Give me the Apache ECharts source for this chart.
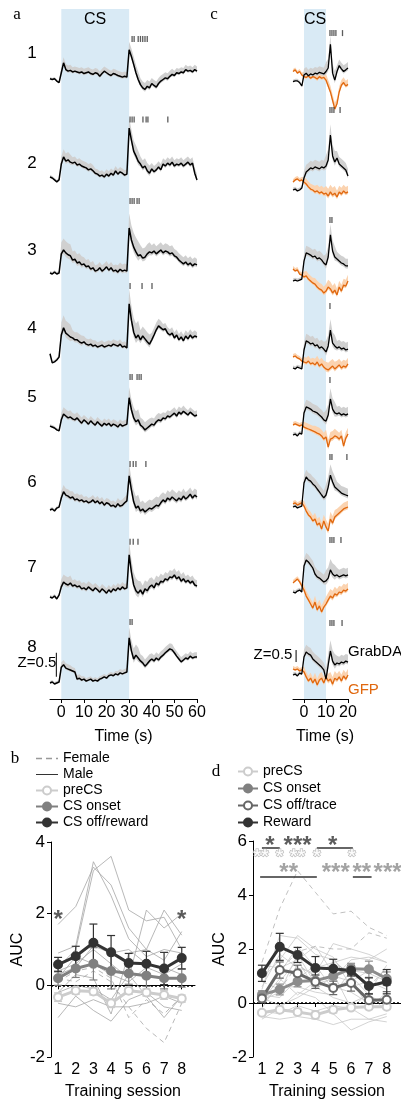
<!DOCTYPE html>
<html>
<head>
<meta charset="utf-8">
<script src="https://cdn.jsdelivr.net/npm/echarts@6/dist/echarts.min.js"></script>
<style>
  html, body { margin: 0; padding: 0; background: #fff; }
  #chart { width: 401px; height: 1101px; }
</style>
</head>
<body>
<div id="chart"></div>
<script>
const FONT = "'Liberation Sans Narrow', 'Liberation Sans', Arial, sans-serif";
const SERIF = "'Liberation Serif', 'DejaVu Serif', serif";

// ---------- panel a: GrabDA, 8 sessions, time -5..60 s (z-score) ----------
const timeA = [-5,-4,-3,-2,-1,0,1,2,3,4,5,6,7,8,9,10,11,12,13,14,15,16,17,18,19,20,21,22,23,24,25,26,27,28,29,
  30,31,32,33,34,35,36,37,38,39,40,41,42,43,44,45,46,47,48,49,50,51,52,53,54,55,56,57,58,59,60];
const aTrace1 = [0.02,0,0.02,-0.04,-0.08,
  0.17,0.42,0.25,0.21,0.23,0.19,0.21,0.19,0.17,0.19, 0.15,0.17,0.19,0.15,0.13,0.17,0.15,0.08,0.15,0.21,
  0.17,0.13,0.1,0.15,0.13,0.1,0.08,0.06,0.08,0.06, 0.75,0.58,0.38,0.17,0,-0.13,-0.21,-0.25,-0.17,-0.21,
  -0.1,-0.15,-0.19,-0.1,-0.04,0,0.04,0.02,0.08,0.13, 0.1,0.17,0.15,0.19,0.17,0.25,0.21,0.23,0.19,0.25, 0.21];
const aTrace2 = [0.02,0,-0.04,-0.08,-0.04,
  0.29,0.44,0.35,0.38,0.33,0.31,0.33,0.27,0.29,0.25, 0.23,0.21,0.17,0.19,0.15,0.1,0.08,0.04,0.06,0.02,
  0.08,0.04,0.1,0.06,0.15,0.08,0.13,0.1,0.06,0.08, 1.04,0.79,0.56,0.46,0.35,0.29,0.21,0.25,0.15,0.1,
  0.19,0.13,0.17,0.23,0.17,0.29,0.25,0.31,0.27,0.33, 0.25,0.29,0.27,0.31,0.25,0.29,0.33,0.27,0.31,0.1, -0.04];
const aTrace3 = [0.02,0,0.04,0,0.02,
  0.42,0.5,0.44,0.4,0.38,0.29,0.31,0.23,0.25,0.19, 0.21,0.15,0.17,0.1,0.13,0.06,0.08,0.13,0.06,0.1,
  0.15,0.08,0.13,0.06,0.08,0.04,0.1,0.06,0.08,0.06, 0.96,0.71,0.56,0.46,0.38,0.4,0.33,0.35,0.42,0.46,
  0.44,0.48,0.42,0.46,0.5,0.44,0.48,0.46,0.42,0.44, 0.38,0.35,0.29,0.25,0.21,0.25,0.19,0.23,0.17,0.21, 0.19];
const aTrace4 = [0.13,-0.06,-0.04,0,0.06,
  0.52,0.67,0.56,0.52,0.48,0.46,0.42,0.42,0.38,0.35, 0.38,0.33,0.31,0.33,0.29,0.31,0.27,0.29,0.31,0.27,
  0.29,0.31,0.29,0.33,0.31,0.29,0.33,0.27,0.29,0.25, 1.17,0.83,0.58,0.46,0.52,0.42,0.5,0.44,0.38,0.33,
  0.42,0.52,0.63,0.71,0.67,0.63,0.65,0.56,0.52,0.56, 0.46,0.52,0.42,0.48,0.4,0.5,0.44,0.52,0.46,0.5, 0.48];
const aTrace5 = [0.04,0.02,0,-0.04,-0.06,
  0.17,0.29,0.25,0.21,0.23,0.19,0.17,0.21,0.15,0.1, 0.17,0.13,0.08,0.15,0.1,0.06,0.13,0.08,0.04,0.1,
  0.06,0.1,0.04,0.08,0.06,0.02,0.08,0.04,0.06,0.08, 0.63,0.38,0.21,0.13,0.17,0.06,0.02,-0.04,0,0.04,
  0.08,0.06,0.13,0.17,0.15,0.21,0.19,0.25,0.23,0.27, 0.31,0.25,0.33,0.29,0.35,0.31,0.27,0.33,0.29,0.25, 0.27];
const aTrace6 = [0,0.02,-0.02,0.04,0.06,
  0.25,0.38,0.31,0.29,0.25,0.27,0.21,0.23,0.19,0.21, 0.17,0.19,0.15,0.17,0.21,0.15,0.19,0.13,0.17,0.1,
  0.15,0.13,0.08,0.1,0.06,0.13,0.08,0.1,0.15,0.19, 0.71,0.42,0.17,0.04,0.08,-0.02,0.02,-0.04,0,0.04,
  0.02,0.06,0.1,0.08,0.15,0.21,0.17,0.25,0.21,0.27, 0.23,0.19,0.25,0.21,0.29,0.23,0.27,0.33,0.25,0.31, 0.27];
const aTrace7 = [0,-0.02,0.02,-0.04,0.04,
  0.21,0.31,0.27,0.25,0.29,0.23,0.25,0.21,0.23,0.17, 0.19,0.15,0.21,0.17,0.13,0.19,0.15,0.1,0.17,0.13,
  0.08,0.15,0.1,0.17,0.13,0.19,0.15,0.21,0.17,0.19, 0.88,0.52,0.25,0.13,0.08,0.15,0.06,0.17,0.13,0.21,
  0.25,0.19,0.29,0.25,0.33,0.31,0.38,0.35,0.42,0.4, 0.46,0.38,0.42,0.33,0.38,0.31,0.35,0.29,0.33,0.25, 0.23];
const aTrace8 = [0,0.02,-0.02,0,0.02,
  0.33,0.38,0.31,0.29,0.27,0.25,0.23,0.08,0.1,0.06, 0.08,0.04,0.06,0.08,0.04,0.06,0.04,0.08,0.1,0.13,
  0.1,0.15,0.17,0.15,0.19,0.17,0.21,0.19,0.21,0.23, 0.94,0.67,0.5,0.58,0.52,0.46,0.42,0.35,0.4,0.46,
  0.5,0.46,0.52,0.48,0.54,0.58,0.63,0.67,0.71,0.69, 0.63,0.56,0.5,0.44,0.48,0.52,0.5,0.56,0.52,0.54, 0.54];
// SEM per 5 s bin, starting at -5 s
const aSem1 = [0.04,0.14,0.12,0.12,0.12,0.12,0.12,0.2,0.16,0.14,0.14,0.12,0.12,0.12];
const aSem2 = [0.04,0.16,0.12,0.12,0.1,0.1,0.1,0.22,0.16,0.12,0.12,0.12,0.12,0.12];
const aSem3 = [0.04,0.24,0.18,0.14,0.12,0.12,0.14,0.3,0.2,0.16,0.16,0.14,0.14,0.12];
const aSem4 = [0.04,0.26,0.16,0.12,0.1,0.1,0.1,0.3,0.2,0.15,0.12,0.12,0.12,0.1];
const aSem5 = [0.04,0.14,0.12,0.1,0.1,0.1,0.1,0.22,0.16,0.14,0.12,0.12,0.1,0.1];
const aSem6 = [0.04,0.14,0.12,0.1,0.1,0.1,0.12,0.24,0.18,0.18,0.16,0.16,0.14,0.14];
const aSem7 = [0.04,0.16,0.12,0.12,0.1,0.1,0.1,0.26,0.18,0.16,0.14,0.14,0.12,0.12];
const aSem8 = [0.04,0.1,0.08,0.06,0.06,0.06,0.08,0.22,0.14,0.12,0.12,0.1,0.1,0.1];
// lick times (s)
const aLicks1 = [31.3,32.2,34,35,36,37,38];
const aLicks2 = [30.4,31.3,32.2,36.1,37.5,38.3,47.1];
const aLicks3 = [30.4,31.3,32.2,33.5,34.4];
const aLicks4 = [30.4,35.7,40.1];
const aLicks5 = [30.4,31.3,33.5,34.4,35.3];
const aLicks6 = [30.4,31.8,33.0,37.4];
const aLicks7 = [30.4,31.8,33.9];
const aLicks8 = [30.4,31.3];

// ---------- panel c: GrabDA vs GFP, time -5..20 s ----------
const timeC = [-5,-4,-3,-2,-1,0,1,2,3,4,5,6,7,8,9,10,11,12,13,14,15,16,17,18,19,20];
const cDA1 = [0,0.04,0.04,-0.04,-0.21, 0.33,0.42,0.29,0.38,0.33,0.42,0.38,0.46,0.42,0.38, 0.5,0.67,1.83,0.42,0.08,0.5,0.79,0.63,0.5,0.58,0.67];
const cGFP1 = [0.5,0.58,0.42,0.5,0.33, 0.25,0.21,0.29,0.17,0.25,0.21,0.13,0.25,0.17,0.21, 0.08,-0.21,-0.5,-0.92,-1.33,-1.08,-0.5,-0.17,-0.04,-0.21,-0.13];
const cDA2 = [0,0.04,-0.04,0,0.08, 0.5,0.75,0.83,0.92,0.88,0.96,0.92,0.88,0.96,0.92, 1.0,1.25,2.29,1.42,1.17,1.33,1.08,1.0,0.92,0.83,0.58];
const cGFP2 = [0.33,0.42,0.46,0.38,0.42, 0.33,0.25,0.13,0.04,0,-0.08,-0.04,-0.13,-0.08,-0.17, -0.13,-0.25,-0.08,-0.21,-0.13,-0.29,-0.08,-0.17,-0.04,-0.13,-0.08];
const cDA3 = [0,0.04,0,0.04,0.08, 0.83,1.17,1.13,1.08,1.0,1.04,0.92,0.96,0.88,0.75, 0.67,1.0,1.92,1.25,1.0,0.92,0.83,0.75,0.71,0.63,0.63];
const cGFP3 = [0.5,0.42,0.46,0.29,0.25, 0.17,0.21,0.08,0,-0.08,-0.13,-0.25,-0.33,-0.38,-0.5, -0.42,-0.25,-0.33,-0.5,-0.38,-0.58,-0.25,-0.42,-0.17,-0.21,0];
const cDA4 = [0,-0.04,0.04,0,-0.04, 0.75,1.13,1.08,1.0,1.04,0.92,0.96,0.83,0.88,0.79, 0.67,0.92,1.58,1.04,0.92,0.83,0.88,0.79,0.83,0.75,0.79];
const cGFP4 = [0.46,0.5,0.42,0.38,0.29, 0.25,0.21,0.29,0.17,0.21,0.13,0.25,0.08,0.17,0.04, -0.04,-0.08,0,0.08,-0.04,0.04,0.13,0,0.08,0.04,0.17];
const cDA5 = [0,0.04,-0.04,0.08,0.04, 0.92,1.17,1.13,1.08,1.0,0.96,0.92,0.83,0.75,0.63, 0.58,0.83,1.5,1.08,0.92,0.88,0.92,0.83,0.88,0.83,0.88];
const cGFP5 = [0.42,0.46,0.42,0.38,0.42, 0.33,0.29,0.25,0.21,0.17,0.13,0.08,0.04,-0.04,-0.17, -0.08,-0.5,-0.17,-0.13,-0.04,-0.08,-0.17,-0.04,-0.46,-0.13,0.04];
const cDA6 = [0,0.04,-0.04,0,0.04, 1.0,1.25,1.13,1.08,0.96,0.88,0.75,0.63,0.5,0.38, 0.5,0.83,1.33,1.04,0.83,0.75,0.67,0.58,0.54,0.5,0.46];
const cGFP6 = [0.13,0.17,0.08,0.13,0.17, 0.04,-0.17,-0.33,-0.42,-0.58,-0.5,-0.75,-0.67,-0.92,-0.58, -0.83,-1.0,-0.5,-0.67,-0.42,-0.33,-0.25,-0.17,-0.08,-0.04,0];
const cDA7 = [0,-0.04,0.04,0.08,0, 1.08,1.33,1.25,1.13,1.0,0.75,0.63,0.58,0.5,0.42, 0.46,0.58,0.92,0.75,0.67,0.71,0.63,0.67,0.71,0.67,0.71];
const cGFP7 = [0.38,0.46,0.54,0.42,0.25, 0.08,-0.17,-0.33,-0.5,-0.67,-0.42,-0.75,-0.58,-0.83,-0.63, -0.5,-0.33,-0.17,-0.25,-0.08,-0.13,0,-0.04,0.08,0.04,0.13];
const cDA8 = [0,0.04,-0.04,0.08,0.04, 0.75,0.96,0.88,0.83,0.67,0.58,0.5,0.42,0.33,0.21, -0.17,0.42,1.0,0.58,0.42,0.5,0.46,0.54,0.5,0.58,0.54];
const cGFP8 = [0.25,0.21,0.25,0.17,0.21, 0.13,-0.08,-0.25,-0.13,-0.33,-0.17,-0.42,-0.21,-0.13,-0.33, -0.08,-0.25,-0.17,-0.38,-0.13,-0.21,-0.08,-0.25,-0.04,-0.17,0];
const cSemDA = [0.1,0.3,0.3,0.45,0.3,0.3];   // per 5 s bin from -5 s
const cSemGFP = [0.12,0.22,0.26,0.3,0.26,0.26];
const cLicks1 = [11.8,12.7,13.6,14.5,17.5];
const cLicks2 = [11.8,12.7,13.6,16.4];
const cLicks3 = [11.8,12.7];
const cLicks4 = [11.8];
const cLicks5 = [11.8];
const cLicks6 = [11.8,12.7,19.5];
const cLicks7 = [11.8,12.7,13.6,16.8];
const cLicks8 = [11.8,12.7,13.6,17.3];

// ---------- panel b: AUC per session ----------
const sessions = [1,2,3,4,5,6,7,8];
const bMale = [
  [1.7,2.2,3.3,2.8,1.6,1.0,0.7,1.5],
  [0.9,1.1,3.45,2.5,1.3,0.8,1.0,0.9],
  [0.5,1.0,3.2,3.6,2.1,1.8,1.9,1.0],
  [0.4,0.6,1.0,0.6,0.2,2.1,1.6,2.0],
  [-0.2,0.3,0.2,-0.8,0.9,1.0,2.1,1.4],
  [-0.9,-0.3,-0.7,-1.0,-0.4,-0.2,-0.6,-0.7],
  [-0.5,-0.6,-0.4,-0.6,-0.6,-0.5,-0.3,-0.5],
  [0.2,0.8,0.6,0.3,0.1,0.5,0.3,0.6],
  [0.3,0.5,1.1,0.9,1.0,0.6,0.5,0.3],
  [-0.2,0.0,-0.1,-0.4,0.3,-0.3,-0.9,-0.3]
];
const bFemale = [
  [0.2,0.1,0.4,0.1,-0.6,-1.2,-1.6,-0.5],
  [0.1,0.4,0.5,0.2,-0.9,-0.4,-0.8,-0.3]
];
const bPreCS = [-0.33,-0.15,-0.17,-0.5,-0.15,-0.2,-0.27,-0.37];
const bPreErr = [0.12,0.1,0.1,0.12,0.1,0.1,0.12,0.1];
const bOnset = [0.2,0.47,0.6,0.4,0.33,0.27,0.2,0.2];
const bOnsetErr = [0.2,0.25,0.45,0.5,0.3,0.3,0.3,0.25];
const bOff = [0.58,0.81,1.19,0.92,0.62,0.6,0.47,0.76];
const bOffErr = [0.2,0.28,0.52,0.47,0.27,0.35,0.45,0.3];
const bStars = [[1, 1.97, '*'], [8, 1.97, '*']];

// ---------- panel d: AUC per session ----------
const dMale = [
  [0.5,2.5,2.4,1.8,1.6,1.0,0.3,-0.3],
  [0.9,1.6,2.5,2.0,1.7,0.6,0.8,0.5],
  [0.2,1.1,2.1,1.3,1.5,1.7,1.6,2.0],
  [-0.2,0.8,1.6,2.1,1.1,-0.2,0.4,1.4],
  [0.1,0.4,1.8,0.7,0.9,1.6,1.7,1.5],
  [0.0,0.6,0.6,0.4,0.3,1.2,1.1,0.8],
  [-0.6,-0.2,0.4,0.2,-0.4,-1.0,-0.7,-0.5],
  [-0.5,-0.6,-0.5,-0.6,-0.8,-0.6,-0.6,-0.7],
  [0.3,0.2,0.9,1.4,0.5,0.9,-0.2,0.4],
  [0.6,1.8,1.3,1.1,2.2,2.0,1.8,1.5],
  [0.2,-0.1,0.2,0.6,0.2,0.0,0.3,-0.1],
  [1.4,1.3,1.6,0.5,1.0,0.8,1.2,0.9],
  [0.1,0.9,0.3,0.8,0.6,0.4,0.0,0.2],
  [-0.3,-0.4,-0.1,-0.3,-0.1,-0.2,-0.6,-0.4]
];
const dFemale = [
  [1.5,3.5,4.9,4.1,3.3,3.4,2.8,2.5],
  [0.2,1.2,1.9,2.1,2.0,2.0,2.6,2.4],
  [0.8,0.5,1.4,1.0,1.5,1.1,0.6,1.3]
];
const dPreCS = [-0.36,-0.25,-0.33,-0.44,-0.25,-0.17,-0.14,-0.14];
const dPreErr = [0.08,0.1,0.1,0.15,0.12,0.1,0.1,0.1];
const dOnset = [0.3,0.5,0.8,0.83,1.0,1.27,1.25,0.9];
const dOnsetErr = [0.15,0.2,0.2,0.2,0.3,0.2,0.3,0.25];
const dOffTrace = [0.17,1.22,1.1,0.79,0.56,0.74,0.1,0.12];
const dOffTraceErr = [0.15,0.3,0.3,0.25,0.25,0.3,0.25,0.3];
const dReward = [1.1,2.08,1.78,1.3,1.27,1.2,0.63,0.79];
const dRewardErr = [0.3,0.5,0.28,0.42,0.35,0.2,0.3,0.45];
// significance annotations: [session, AUC, text]
const dStarsDark = [[1.45, 6.0, '*'], [3.0, 6.0, '***'], [4.97, 6.0, '*']];
const dStarsOpen = [[0.95, 5.55, '**'], [2.0, 5.55, '*'], [3.0, 5.55, '**'], [4.08, 5.55, '*'], [6.04, 5.55, '*']];
const dStarsGray = [[2.5, 5.0, '**'], [5.14, 5.0, '***'], [6.6, 5.0, '**'], [8.05, 5.0, '***']];
const dBarsDark = [[1.0, 2.0, 5.74], [4.08, 6.1, 5.74]];
const dBarsGray = [[0.9, 4.08, 4.67], [6.1, 7.15, 4.67]];

// ---------- layout ----------
const aBase = [63, 178, 274, 360, 428, 510, 597, 683];   // pixel row of each session's baseline
const cBase = [71, 190, 281, 368, 435, 507, 592, 675];
const A_PX = 48, C_PX = 24;                               // pixels per z unit
const aLickZ = [1.02, 1.22, 1.52, 1.54, 1.06, 0.96, 1.15, 1.27];
const cLickZ = [2.38, 3.33, 2.54, 2.58, 2.29, 2.08, 2.17, 2.17];

const aTraces = [aTrace1, aTrace2, aTrace3, aTrace4, aTrace5, aTrace6, aTrace7, aTrace8];
const aSems = [aSem1, aSem2, aSem3, aSem4, aSem5, aSem6, aSem7, aSem8];
const aLicks = [aLicks1, aLicks2, aLicks3, aLicks4, aLicks5, aLicks6, aLicks7, aLicks8];
const cDAs = [cDA1, cDA2, cDA3, cDA4, cDA5, cDA6, cDA7, cDA8];
const cGFPs = [cGFP1, cGFP2, cGFP3, cGFP4, cGFP5, cGFP6, cGFP7, cGFP8];
const cLicks = [cLicks1, cLicks2, cLicks3, cLicks4, cLicks5, cLicks6, cLicks7, cLicks8];

const grid = [], xAxis = [], yAxis = [], series = [], graphic = [];
function addGrid(g, x, y) {
  grid.push(g);
  const i = grid.length - 1;
  xAxis.push(Object.assign({ gridIndex: i }, x));
  yAxis.push(Object.assign({ gridIndex: i }, y));
  return i;
}
const txt = (text, x, y, size, opts = {}) => graphic.push({
  type: 'text', x, y, z: 100, silent: true,
  style: Object.assign({ text, fontSize: size, fontFamily: FONT, fill: '#000', align: 'center', verticalAlign: 'middle' }, opts)
});

// mean trace with a shaded SEM band (band drawn as one polygon through the axes)
function addTrace(gi, times, mean, sem, lineColor, bandColor, width) {
  const semAt = (t) => sem[Math.min(sem.length - 1, Math.floor((t + 5) / 5))];
  const lo = times.map((t, j) => mean[j] - 0.35 * semAt(t));
  const hi = times.map((t, j) => mean[j] + semAt(t));
  series.push({ type: 'custom', xAxisIndex: gi, yAxisIndex: gi, silent: true, z: 1,
    data: times.map((t, j) => [t, lo[j], hi[j]]),
    renderItem(params, api) {
      if (params.dataIndex !== 0) return null;
      const pts = times.map((t, j) => api.coord([t, hi[j]]));
      for (let j = times.length - 1; j >= 0; j--) pts.push(api.coord([times[j], lo[j]]));
      return { type: 'polygon', shape: { points: pts }, style: { fill: bandColor } };
    } });
  series.push({ type: 'line', xAxisIndex: gi, yAxisIndex: gi, symbol: 'none', silent: true,
    lineStyle: { color: lineColor, width }, data: times.map((t, j) => [t, mean[j]]), z: 3 });
}
function addLicks(gi, times, z) {
  series.push({ type: 'scatter', xAxisIndex: gi, yAxisIndex: gi, symbol: 'rect', symbolSize: [1.3, 6], silent: true,
    itemStyle: { color: '#333' }, data: times.map((t) => [t, z]), z: 4 });
}
const timeAxis = (min, max, ticks, namePad) => ({
  type: 'value', min, max,
  axisLine: { lineStyle: { color: '#000', width: 1 } },
  axisTick: { customValues: ticks, length: 4, lineStyle: { color: '#000' } },
  axisLabel: { customValues: ticks, fontSize: 16, fontFamily: FONT, color: '#000', margin: 6 },
  splitLine: { show: false },
  name: 'Time (s)', nameLocation: 'middle', nameGap: 30,
  nameTextStyle: { fontSize: 16, fontFamily: FONT, color: '#000', padding: namePad }
});

// panel a axis + CS shading
const ga = addGrid({ left: 50, top: 9, width: 147, height: 690 }, timeAxis(-5, 60, [0, 10, 20, 30, 40, 50, 60], 0), { type: 'value', min: 0, max: 1, show: false });
series.push({ type: 'line', xAxisIndex: ga, yAxisIndex: ga, data: [[0, 0]], symbol: 'none', silent: true, z: 0,
  markArea: { silent: true, itemStyle: { color: '#d9eaf5' }, data: [[{ xAxis: 0 }, { xAxis: 30 }]] } });
aTraces.forEach((tr, i) => {
  const gi = addGrid({ left: 50, top: aBase[i] - 2 * A_PX, width: 147, height: 4 * A_PX },
    { type: 'value', min: -5, max: 60, show: false }, { type: 'value', min: -2, max: 2, show: false });
  addTrace(gi, timeA, tr, aSems[i], '#000', '#d0d0d0', 1.5);
  addLicks(gi, aLicks[i], aLickZ[i]);
  txt(String(i + 1), 32, [53, 163, 250, 328, 397, 482, 567, 647][i], 17);
  if (i === 7) {
    series.push({ type: 'line', xAxisIndex: gi, yAxisIndex: gi, symbol: 'none', silent: true,
      lineStyle: { color: '#000', width: 1 }, data: [[-2.2, 0.13], [-2.2, 0.63]], z: 5 });
  }
});

// panel c axis + CS shading
const gc = addGrid({ left: 293, top: 9, width: 55, height: 690 }, timeAxis(-5, 20, [0, 10, 20], [0, 0, 0, 9]), { type: 'value', min: 0, max: 1, show: false });
series.push({ type: 'line', xAxisIndex: gc, yAxisIndex: gc, data: [[0, 0]], symbol: 'none', silent: true, z: 0,
  markArea: { silent: true, itemStyle: { color: '#d9eaf5' }, data: [[{ xAxis: 0 }, { xAxis: 10 }]] } });
cDAs.forEach((tr, i) => {
  const gi = addGrid({ left: 293, top: cBase[i] - 4 * C_PX, width: 55, height: 7 * C_PX },
    { type: 'value', min: -5, max: 20, show: false }, { type: 'value', min: -3, max: 4, show: false });
  addTrace(gi, timeC, cGFPs[i], cSemGFP, '#e0680f', '#fbd3b0', 1.3);
  addTrace(gi, timeC, tr, cSemDA, '#000', '#d0d0d0', 1.3);
  addLicks(gi, cLicks[i], cLickZ[i]);
  if (i === 7) {
    series.push({ type: 'line', xAxisIndex: gi, yAxisIndex: gi, symbol: 'none', silent: true,
      lineStyle: { color: '#000', width: 1 }, data: [[-3.6, 0.54], [-3.6, 1.04]], z: 5 });
  }
});

// AUC panels
function aucGrid(left, top, width, xmin, xmax, ymax, nameGap) {
  return addGrid({ left, top, width, height: 216 },
    { type: 'value', min: xmin, max: xmax,
      axisLine: { lineStyle: { color: '#000' } },
      axisTick: { customValues: sessions, length: 4, lineStyle: { color: '#000' } },
      axisLabel: { customValues: sessions, fontSize: 16, fontFamily: FONT, color: '#000', margin: 5 },
      splitLine: { show: false },
      name: 'Training session', nameLocation: 'middle', nameGap: 27,
      nameTextStyle: { fontSize: 16, fontFamily: FONT, color: '#000' } },
    { type: 'value', min: -2, max: ymax, interval: 2,
      axisLine: { show: true, lineStyle: { color: '#000' } },
      axisTick: { show: true, length: 4, lineStyle: { color: '#000' } },
      axisLabel: { fontSize: 17, fontFamily: FONT, color: '#000', margin: 6 },
      splitLine: { show: false },
      name: 'AUC', nameLocation: 'middle', nameGap,
      nameTextStyle: { fontSize: 16, fontFamily: FONT, color: '#000' } });
}
function indiv(gi, rows, name, color, dashed) {
  rows.forEach((r) => series.push({ name, type: 'line', xAxisIndex: gi, yAxisIndex: gi, symbol: 'none', silent: true, z: 1,
    itemStyle: { color }, lineStyle: { color, width: 0.8, type: dashed ? [5, 4] : 'solid' },
    data: sessions.map((s, k) => [s, r[k]]) }));
}
function meanLine(gi, name, vals, color, hollow, zeroLine) {
  const s = { name, type: 'line', xAxisIndex: gi, yAxisIndex: gi, symbol: 'circle', symbolSize: 8, silent: true, z: 6,
    lineStyle: { color, width: 3 },
    itemStyle: { color: hollow ? '#fff' : color, borderColor: color, borderWidth: 2 },
    data: sessions.map((x, k) => [x, vals[k]]) };
  if (zeroLine) {
    s.markLine = { silent: true, symbol: ['none', 'none'], label: { show: false },
      lineStyle: { color: '#000', type: [2, 2], width: 1.5 }, data: [{ yAxis: 0 }] };
  }
  series.push(s);
}
function errBars(gi, vals, errs, color) {
  series.push({ type: 'custom', xAxisIndex: gi, yAxisIndex: gi, silent: true, z: 5,
    data: sessions.map((x, k) => [x, vals[k] - errs[k], vals[k] + errs[k]]),
    renderItem(params, api) {
      const lo = api.coord([api.value(0), api.value(1)]);
      const hi = api.coord([api.value(0), api.value(2)]);
      const st = { stroke: color, lineWidth: 1.2 };
      return { type: 'group', children: [
        { type: 'line', shape: { x1: lo[0], y1: lo[1], x2: hi[0], y2: hi[1] }, style: st },
        { type: 'line', shape: { x1: lo[0] - 4, y1: lo[1], x2: lo[0] + 4, y2: lo[1] }, style: st },
        { type: 'line', shape: { x1: hi[0] - 4, y1: hi[1], x2: hi[0] + 4, y2: hi[1] }, style: st }
      ] };
    } });
}
function starLabels(gi, rows, size, color, stroke) {
  series.push({ type: 'scatter', xAxisIndex: gi, yAxisIndex: gi, symbolSize: 0, silent: true, z: 8,
    data: rows.map((r) => ({ value: [r[0], r[1]], name: r[2] })),
    label: { show: true, position: 'inside', formatter: (p) => p.name, fontSize: size, fontWeight: 'bold',
      fontFamily: FONT, color, textBorderColor: stroke || 'transparent', textBorderWidth: stroke ? 1 : 0, offset: [0, size * 0.22] } });
}
function sigBars(gi, rows, color) {
  rows.forEach((r) => series.push({ type: 'line', xAxisIndex: gi, yAxisIndex: gi, symbol: 'none', silent: true, z: 8,
    lineStyle: { color, width: 1.5 }, data: [[r[0], r[2]], [r[1], r[2]]] }));
}

const gb = aucGrid(51, 842, 144, 0.6, 8.75, 4, 17);
indiv(gb, bMale, 'Male', '#a6a6a6', false);
indiv(gb, bFemale, 'Female', '#a6a6a6', true);
meanLine(gb, 'preCS', bPreCS, '#cccccc', true, true);
errBars(gb, bPreCS, bPreErr, '#cccccc');
meanLine(gb, 'CS onset', bOnset, '#808080', false);
errBars(gb, bOnset, bOnsetErr, '#808080');
meanLine(gb, 'CS off/reward', bOff, '#333333', false);
errBars(gb, bOff, bOffErr, '#333333');
starLabels(gb, bStars, 24, '#333');

const gd = aucGrid(253, 841, 148, 0.5, 8.8, 6, 19);
indiv(gd, dMale, 'dMale', '#c8c8c8', false);
indiv(gd, dFemale, 'dFemale', '#b0b0b0', true);
meanLine(gd, 'preCS', dPreCS, '#cccccc', true, true);
errBars(gd, dPreCS, dPreErr, '#cccccc');
meanLine(gd, 'CS onset', dOnset, '#8c8c8c', false);
errBars(gd, dOnset, dOnsetErr, '#8c8c8c');
meanLine(gd, 'CS off/trace', dOffTrace, '#666666', true);
errBars(gd, dOffTrace, dOffTraceErr, '#666666');
meanLine(gd, 'Reward', dReward, '#333333', false);
errBars(gd, dReward, dRewardErr, '#333333');
starLabels(gd, dStarsDark, 24, '#333');
starLabels(gd, dStarsOpen, 20, '#fff', '#9a9a9a');
starLabels(gd, dStarsGray, 24, '#8c8c8c');
sigBars(gd, dBarsDark, '#333');
sigBars(gd, dBarsGray, '#333');

// text
txt('a', 17, 15, 17, { fontFamily: SERIF });
txt('c', 214, 15, 17, { fontFamily: SERIF });
txt('b', 15, 759, 17, { fontFamily: SERIF });
txt('d', 216, 772, 17, { fontFamily: SERIF });
txt('CS', 95, 20, 16);
txt('CS', 315, 20, 16);
txt('Z=0.5', 37, 663, 15);
txt('Z=0.5', 273, 655, 15);
txt('GrabDA', 348, 652, 15, { align: 'left' });
txt('GFP', 348, 690, 15, { align: 'left', fill: '#e0680f' });

const legendText = { fontFamily: FONT, fontSize: 14, color: '#000', lineHeight: 15 };
const option = {
  animation: false,
  backgroundColor: '#fff',
  grid, xAxis, yAxis, series, graphic,
  legend: [
    { orient: 'vertical', left: 35, top: 751, padding: 0, itemGap: 1, itemWidth: 22, itemHeight: 10, selectedMode: false,
      textStyle: legendText,
      data: [
        { name: 'Female', itemStyle: { opacity: 0 }, lineStyle: { color: '#999', type: [6, 4], width: 1.5 } },
        { name: 'Male', itemStyle: { opacity: 0 }, lineStyle: { color: '#333', width: 1 } },
        'preCS', 'CS onset', 'CS off/reward'
      ] },
    { orient: 'vertical', left: 237, top: 764, padding: 0, itemGap: 2, itemWidth: 20, itemHeight: 10, selectedMode: false,
      textStyle: legendText,
      data: ['preCS', 'CS onset', 'CS off/trace', 'Reward'] }
  ]
};

const chart = echarts.init(document.getElementById('chart'), null, { renderer: 'canvas' });
chart.setOption(option);
</script>
</body>
</html>
